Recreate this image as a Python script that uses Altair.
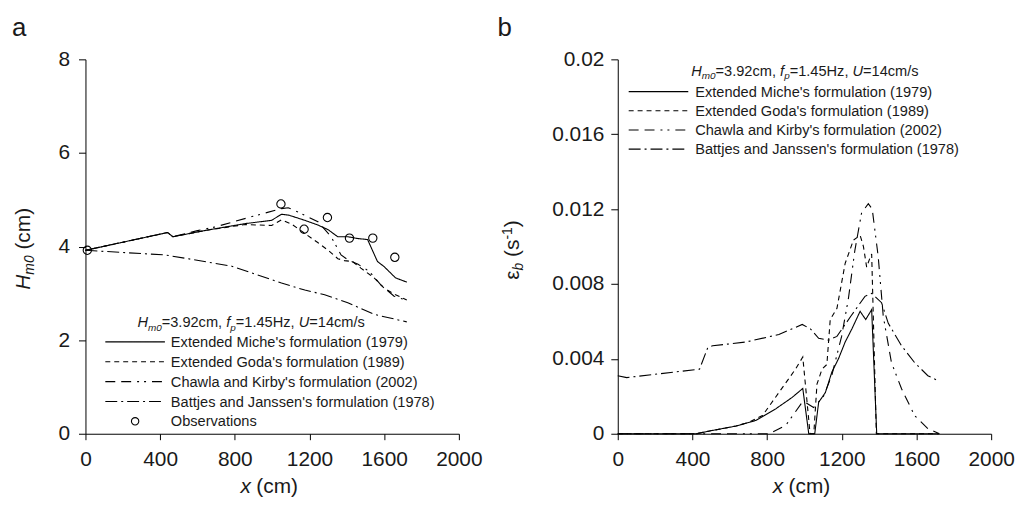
import altair as alt
import pandas as pd

FONT = "Liberation Sans, Arial, Helvetica, sans-serif"
INK = "#1a1a1a"

# ---------------- Panel a : wave height ----------------
a_miche_x = [0, 440, 468, 650, 855, 997, 1050, 1090, 1175, 1245, 1300, 1351, 1405, 1460, 1511, 1564, 1600, 1661, 1721]
a_miche_y = [3.92, 4.30, 4.21, 4.35, 4.49, 4.56, 4.69, 4.67, 4.56, 4.46, 4.36, 4.21, 4.21, 4.17, 4.15, 3.68, 3.57, 3.33, 3.24]

a_goda_x = [0, 440, 468, 650, 855, 997, 1050, 1104, 1175, 1246, 1300, 1352, 1387, 1430, 1475, 1546, 1600, 1661, 1721]
a_goda_y = [3.92, 4.30, 4.21, 4.35, 4.47, 4.45, 4.57, 4.48, 4.28, 4.08, 3.92, 3.74, 3.70, 3.68, 3.54, 3.33, 3.11, 2.97, 2.86]

a_chawla_x = [0, 440, 468, 600, 696, 891, 1050, 1086, 1138, 1245, 1316, 1369, 1404, 1460, 1520, 1582, 1653, 1721]
a_chawla_y = [3.92, 4.30, 4.21, 4.34, 4.42, 4.64, 4.81, 4.83, 4.74, 4.53, 4.21, 3.82, 3.72, 3.62, 3.47, 3.18, 2.94, 2.85]

a_battjes_x = [0, 429, 784, 1050, 1175, 1281, 1405, 1547, 1721]
a_battjes_y = [3.92, 3.82, 3.58, 3.22, 3.07, 2.97, 2.80, 2.55, 2.39]

obs_x = [10, 1047, 1171, 1296, 1414, 1539, 1657]
obs_y = [3.92, 4.91, 4.37, 4.62, 4.18, 4.18, 3.77]

# ---------------- Panel b : dissipation ----------------
b_miche_x = [0, 420, 509, 633, 739, 846, 934, 991, 1023, 1055, 1076, 1112, 1147, 1182, 1218, 1254, 1298, 1328, 1360, 1387, 1720]
b_miche_y = [0, 0, 0.00018, 0.00041, 0.00071, 0.00133, 0.00194, 0.00242, 0, 0, 0.00168, 0.0022, 0.0033, 0.0040, 0.0049, 0.0056, 0.00654, 0.0061, 0.00663, 0, 0]

b_goda_x = [0, 420, 509, 633, 700, 775, 863, 952, 991, 1030, 1050, 1067, 1094, 1120, 1138, 1174, 1218, 1262, 1298, 1316, 1333, 1351, 1360, 1385, 1720]
b_goda_y = [0, 0, 0.00018, 0.00041, 0.0006, 0.00097, 0.0022, 0.00345, 0.0041, 0, 0, 0.00265, 0.00345, 0.0037, 0.0061, 0.0067, 0.0091, 0.01034, 0.0106, 0.0100, 0.0089, 0.0094, 0.0096, 0, 0]

b_chawla_x = [0, 810, 899, 988, 1004, 1049, 1102, 1146, 1199, 1235, 1270, 1306, 1342, 1363, 1395, 1422, 1466, 1520, 1590, 1661, 1723]
b_chawla_y = [0, 0, 0.00044, 0.00168, 0.00168, 0.0014, 0.0020, 0.0031, 0.0052, 0.0072, 0.0098, 0.0118, 0.01229, 0.0120, 0.00946, 0.00628, 0.0038, 0.0024, 0.00097, 0.00027, 0.0]

b_battjes_x = [0, 48, 438, 482, 508, 686, 863, 988, 1032, 1076, 1129, 1174, 1250, 1324, 1360, 1413, 1449, 1520, 1590, 1661, 1723]
b_battjes_y = [0.0031, 0.0030, 0.00345, 0.0046, 0.0047, 0.0049, 0.0053, 0.00584, 0.0056, 0.0051, 0.0050, 0.0052, 0.0063, 0.00734, 0.0075, 0.0070, 0.0059, 0.0047, 0.0038, 0.0031, 0.0028]

x_ticks = [0, 400, 800, 1200, 1600, 2000]
a_y_ticks = [0, 2, 4, 6, 8]
b_y_ticks = [0, 0.004, 0.008, 0.012, 0.016, 0.02]

legend_labels = ["Extended Miche's formulation (1979)",
                 "Extended Goda's formulation (1989)",
                 "Chawla and Kirby's formulation (2002)",
                 "Battjes and Janssen's formulation (1978)"]
obs_label = "Observations"

DASH = {"miche": [1, 0], "goda": [5, 4], "chawla": [10, 6, 10, 6, 2, 5, 2, 6], "battjes": [12, 4, 2, 4]}
SERIES = ["miche", "goda", "chawla", "battjes"]

W, H = 376, 377

# Arial / Liberation Sans advance widths (1/1000 em) for text layout
AW = {' ': 278, '(': 333, ')': 333, ',': 278, '-': 333, '.': 278, '/': 278, '=': 584, "'": 191,
      'H': 722, 'U': 722, 'a': 556, 'b': 556, 'c': 500, 'f': 278, 'm': 833, 'p': 556, 's': 500,
      'x': 500, 'z': 500, 'ε': 446}


def tw(s, size):
    return sum(AW.get(c, 556) for c in s) / 1000.0 * size


one = pd.DataFrame({"k": [0]})


def txt(s, x, y, size, style="normal", angle=0, align="left", baseline="alphabetic"):
    return alt.Chart(one).mark_text(
        text=s, font=FONT, fontSize=size, fontStyle=style, angle=angle,
        align=align, baseline=baseline, color=INK
    ).encode(x=alt.value(x), y=alt.value(y))


def compose(pieces, x0, y0, rotated=False):
    layers = []
    pos = y0 if rotated else x0
    for s, size, style, shift in pieces:
        lead = len(s) - len(s.lstrip(" "))
        trail = len(s) - len(s.rstrip(" "))
        core = s.strip(" ")
        sgn = -1 if rotated else 1
        pos += sgn * tw(" " * lead, size)
        if rotated:
            layers.append(txt(core, x0 + shift, pos, size, style, angle=270))
        else:
            layers.append(txt(core, pos, y0 + shift, size, style))
        pos += sgn * (tw(core, size) + tw(" " * trail, size))
    return layers


def xaxis():
    return alt.Axis(values=x_ticks, format="d", title=None, grid=False, tickSize=6,
                    labelPadding=9, labelFontSize=21, labelFont=FONT, labelColor=INK,
                    domainColor="black", tickColor="black", labelFlush=False,
                    labelOverlap=False, domainWidth=1, tickWidth=1)


def yaxis(values, fmt, pad):
    return alt.Axis(values=values, format=fmt, title=None, grid=False, tickSize=7,
                    labelPadding=pad, labelFontSize=21, labelFont=FONT, labelColor=INK,
                    domainColor="black", tickColor="black", labelFlush=False,
                    labelOverlap=False, domainWidth=1, tickWidth=1)


def series_df(xs, ys):
    return pd.DataFrame({"x": xs, "y": ys})


def panel(data, ydom, yvals, yfmt, ypad, with_obs):
    xs = alt.Scale(domain=[0, 2000], nice=False)
    ys = alt.Scale(domain=ydom, nice=False)
    X = alt.X("x:Q", scale=xs, axis=xaxis())
    Y = alt.Y("y:Q", scale=ys, axis=yaxis(yvals, yfmt, ypad))
    layers = []
    for key in SERIES:
        xs_, ys_ = data[key]
        layers.append(
            alt.Chart(series_df(xs_, ys_)).mark_line(
                color="black", strokeWidth=1.1, strokeDash=DASH[key]
            ).encode(x=X, y=Y, order="ix:Q").transform_window(ix="row_number()")
        )
    if with_obs:
        layers.append(
            alt.Chart(series_df(obs_x, obs_y)).mark_point(
                shape="circle", filled=False, size=70, color="black", strokeWidth=1.1, opacity=1
            ).encode(x=X, y=Y)
        )
    return layers


def x_title():
    return [txt("x", 166.5, 437, 21, "italic", align="right"),
            txt("(cm)", 172, 437, 21)]


LS = 14.7
TITLE_PIECES = [("H", LS, "italic", 0), ("m0", 10, "italic", 3.5), ("=3.92cm, ", LS, "normal", 0),
                ("f", LS, "italic", 0), ("p", 10, "italic", 3.5), ("=1.45Hz, ", LS, "normal", 0),
                ("U", LS, "italic", 0), ("=14cm/s", LS, "normal", 0)]

# ----- panel a -----
la = panel({"miche": (a_miche_x, a_miche_y), "goda": (a_goda_x, a_goda_y),
            "chawla": (a_chawla_x, a_chawla_y), "battjes": (a_battjes_x, a_battjes_y)},
           [0, 8], a_y_ticks, "d", 9, True)
la.append(txt("a", -74, -24, 26))
la += x_title()
la += compose([("H", 21, "italic", 0), ("m0", 14, "italic", 4), (" (cm)", 21, "normal", 0)],
              -56, 232, rotated=True)
la += compose(TITLE_PIECES, 52.3, 269.7)
rows_a = [284.5, 304.5, 324.5, 344.5]
for key, lab, yc in zip(SERIES, legend_labels, rows_a):
    la.append(alt.Chart(one).mark_rule(color="black", strokeWidth=1.1, strokeDash=DASH[key])
              .encode(x=alt.value(20), x2=alt.value(80), y=alt.value(yc)))
    la.append(txt(lab, 86, yc + 5.2, LS))
la.append(alt.Chart(one).mark_point(shape="circle", filled=False, size=55, color="black",
                                    strokeWidth=1.1, opacity=1)
          .encode(x=alt.value(50), y=alt.value(364.5)))
la.append(txt(obs_label, 86, 364.5 + 5.2, LS))

pa = alt.layer(*la).properties(width=W, height=H)

# ----- panel b -----
lb = panel({"miche": (b_miche_x, b_miche_y), "goda": (b_goda_x, b_goda_y),
            "chawla": (b_chawla_x, b_chawla_y), "battjes": (b_battjes_x, b_battjes_y)},
           [0, 0.02], b_y_ticks, "~g", 7, False)
lb.append(txt("b", -121, -24, 26))
lb += x_title()
lb += compose([("ε", 21, "normal", 0), ("b", 14, "italic", 4), (" (s", 21, "normal", 0),
               ("-1", 14, "normal", -8), (")", 21, "normal", 0)], -99, 222, rotated=True)
lb += compose(TITLE_PIECES, 74, 16.5)
rows_b = [32.5, 51.8, 71.1, 90.4]
for key, lab, yc in zip(SERIES, legend_labels, rows_b):
    lb.append(alt.Chart(one).mark_rule(color="black", strokeWidth=1.1, strokeDash=DASH[key])
              .encode(x=alt.value(11), x2=alt.value(71), y=alt.value(yc)))
    lb.append(txt(lab, 78, yc + 5.2, LS))

pb = alt.layer(*lb).properties(width=W, height=H)

chart = alt.hconcat(pa, pb, spacing=15).properties(
    padding={"left": 4, "top": 5, "right": 0, "bottom": 0},
    background="white"
).configure_view(stroke=None)

chart.save("out.html", embed_options={"renderer": "svg", "actions": False})
